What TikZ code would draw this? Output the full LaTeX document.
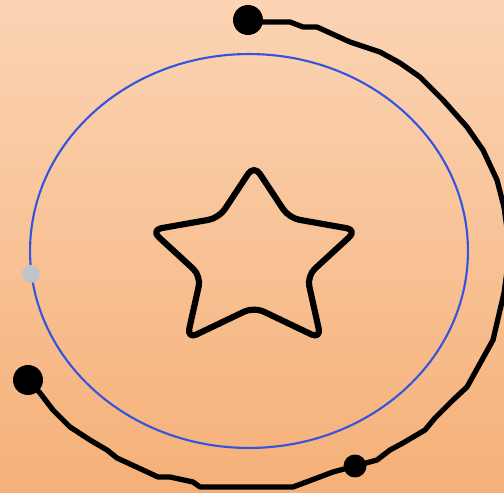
\documentclass[tikz,border=0pt]{standalone}
\usepackage{tikz}
\definecolor{peachtop}{RGB}{251,212,180}
\definecolor{peachbot}{RGB}{245,176,120}
\definecolor{ringblue}{RGB}{52,84,222}
\definecolor{knobgray}{RGB}{192,196,200}
\tikzset{
  bigdot/.style={circle, fill=black, inner sep=0pt, minimum size=0.6cm},
  middot/.style={circle, fill=black, inner sep=0pt, minimum size=0.46cm},
  knob/.style={circle, fill=knobgray, inner sep=0pt, minimum size=0.36cm},
  trackline/.style={line width=3pt, line join=round, line cap=round},
  starline/.style={line width=3.5pt, line join=round, rounded corners=6pt}
}

\begin{document}
\begin{tikzpicture}[x=0.02cm, y=-0.02cm]
  \useasboundingbox (0,0) rectangle (504,493);
  % background
  \shade[top color=peachtop, bottom color=peachbot] (0,0) rectangle (504,493);
  % ring
  \draw[ringblue, line width=1.2pt] (249,251) ellipse [x radius=4.38cm, y radius=3.94cm];
  \node[knob] (knob) at (31,274) {};
  % star
  \draw[starline] (254,165) -- (289,218) -- (357,230) -- (307,276) -- (321,339)
    -- (254,307) -- (187,339) -- (201,276) -- (151,230) -- (219,218) -- cycle;
  % dots on the track
  \node[bigdot] (start) at (248,20) {};
  \node[middot] (mid) at (355,466) {};
  \node[bigdot] (stop) at (28,380) {};
  % track
  \begin{scope}
    \clip (0,0) rectangle (504,493);
    \draw[trackline] (start) -- (263,22) -- (290,22) -- (303,27) -- (317,27) -- (350,42)
      -- (380,52) -- (400,63) -- (420,77) -- (443,100) -- (467,127) -- (483,150)
      -- (497,180) -- (504,207) -- (510,250) -- (504,293) -- (493,340) -- (467,387)
      -- (453,400) -- (435,418) -- (425,430) -- (403,443) -- (390,450) -- (377,460)
      -- (mid.center) -- (333,472) -- (293,487) -- (200,487) -- (193,482) -- (170,477)
      -- (158,477) -- (143,470) -- (117,458) -- (107,450) -- (90,440) -- (70,427)
      -- (53,410) -- (40,393) -- (stop);
  \end{scope}
\end{tikzpicture}
\end{document}
